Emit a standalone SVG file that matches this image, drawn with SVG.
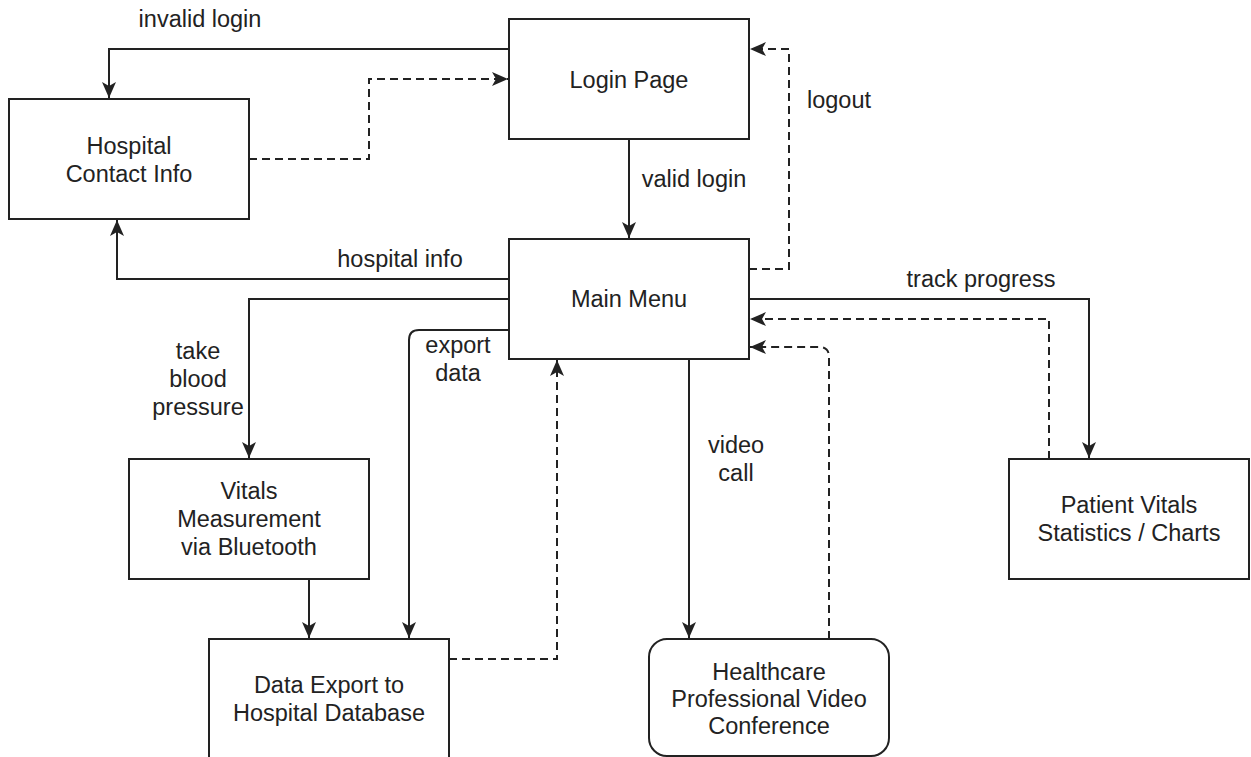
<svg xmlns="http://www.w3.org/2000/svg" width="1251" height="757" viewBox="0 0 1251 757">
<defs>
<style>
.box{fill:#fff;stroke:#222;stroke-width:2}
.t{font-family:"Liberation Sans",Arial,Helvetica,sans-serif;font-size:23.5px;fill:#222;text-anchor:middle}
.c{fill:none;stroke:#222;stroke-width:2}
.d{stroke-dasharray:8 5}
</style>
<marker id="ah" markerUnits="userSpaceOnUse" markerWidth="17" markerHeight="16" viewBox="0 0 17 16" refX="16" refY="8" orient="auto">
<path d="M16,8 L0,1 L4,8 L0,15 Z" fill="#222"/>
</marker>
</defs>
<rect width="1251" height="757" fill="#fff"/>
<g id="connectors">
<path class="c" d="M509,49 L109,49 L109,98" marker-end="url(#ah)"/>
<path class="c d" d="M249,159 L369,159 L369,79 L508,79" marker-end="url(#ah)"/>
<path class="c" d="M629,139 L629,238" marker-end="url(#ah)"/>
<path class="c d" d="M749,269 L789,269 L789,49 L750,49" marker-end="url(#ah)"/>
<path class="c" d="M509,279 L117,279 L117,220" marker-end="url(#ah)"/>
<path class="c" d="M509,299 L249,299 L249,458" marker-end="url(#ah)"/>
<path class="c" d="M509,330 L419,330 Q409,330 409,340 L409,638" marker-end="url(#ah)"/>
<path class="c" d="M309,579 L309,638" marker-end="url(#ah)"/>
<path class="c d" d="M449,659 L557,659 L557,360" marker-end="url(#ah)"/>
<path class="c" d="M689,359 L689,638" marker-end="url(#ah)"/>
<path class="c d" d="M829,639 L829,357 Q829,347 819,347 L750,347" marker-end="url(#ah)"/>
<path class="c" d="M749,299 L1089,299 L1089,458" marker-end="url(#ah)"/>
<path class="c d" d="M1049,459 L1049,319 L750,319" marker-end="url(#ah)"/>
<text class="t" x="200" y="27">invalid login</text>
<text class="t" x="694" y="187">valid login</text>
<text class="t" x="839" y="108">logout</text>
<text class="t" x="400" y="267">hospital info</text>
<text class="t" x="198" y="359">take</text>
<text class="t" x="198" y="387">blood</text>
<text class="t" x="198" y="415">pressure</text>
<text class="t" x="458" y="353">export</text>
<text class="t" x="458" y="381">data</text>
<text class="t" x="736" y="453">video</text>
<text class="t" x="736" y="481">call</text>
<text class="t" x="981" y="287">track progress</text>
</g>
<g id="login-page">
<rect class="box" x="509" y="19" width="240" height="120"/>
<text class="t" x="629" y="88">Login Page</text>
</g>
<g id="hospital-contact-info">
<rect class="box" x="9" y="99" width="240" height="120"/>
<text class="t" x="129" y="154">Hospital</text>
<text class="t" x="129" y="182">Contact Info</text>
</g>
<g id="main-menu">
<rect class="box" x="509" y="239" width="240" height="120"/>
<text class="t" x="629" y="307">Main Menu</text>
</g>
<g id="vitals-measurement">
<rect class="box" x="129" y="459" width="240" height="120"/>
<text class="t" x="249" y="499">Vitals</text>
<text class="t" x="249" y="527">Measurement</text>
<text class="t" x="249" y="555">via Bluetooth</text>
</g>
<g id="data-export">
<rect class="box" x="209" y="639" width="240" height="120"/>
<text class="t" x="329" y="693">Data Export to</text>
<text class="t" x="329" y="721">Hospital Database</text>
</g>
<g id="video-conference">
<rect class="box" x="649" y="639" width="240" height="117" rx="18" ry="18"/>
<text class="t" x="769" y="680">Healthcare</text>
<text class="t" x="769" y="707">Professional Video</text>
<text class="t" x="769" y="734">Conference</text>
</g>
<g id="patient-vitals-statistics">
<rect class="box" x="1009" y="459" width="240" height="120"/>
<text class="t" x="1129" y="513">Patient Vitals</text>
<text class="t" x="1129" y="541">Statistics / Charts</text>
</g>
</svg>
